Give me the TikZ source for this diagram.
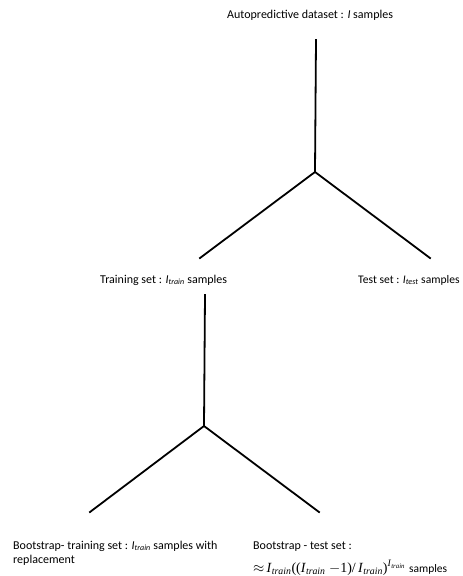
\documentclass[tikz,border=0pt]{standalone}
\usepackage{fontspec}
\setmainfont{Carlito}
\newfontfamily\formfont{Liberation Serif}
\newcommand{\Isub}[1]{\textit{I}\textsubscript{\textit{#1}}}
\begin{document}
\begin{tikzpicture}[x=1pt,y=-1pt,
  lbl/.style={anchor=base west,inner sep=0pt,font=\fontsize{12}{14.5}\selectfont,align=left},
  branch/.style={line width=1.8pt,line cap=rect}]
\useasboundingbox (0,0) rectangle (463,576);
% labels
\node[lbl] (root) at (227,18) {Autopredictive dataset : \textit{I} samples};
\node[lbl] (train) at (100,283) {Training set : \Isub{train} samples};
\node[lbl,font=\fontsize{11.6}{14}\selectfont] (test) at (358,283) {Test set : \Isub{test} samples};
\node[lbl] (bstrain) at (13,563.5) {Bootstrap- training set : \Isub{train} samples with\\replacement};
\node[lbl] (bstest) at (253,549) {Bootstrap - test set :};
\node[anchor=base west,inner sep=0pt,font=\formfont\fontsize{14}{16}\selectfont] (formula) at (253,572)
  {$\approx$\,\textit{I}\textsubscript{\textit{train}}((\textit{I}\textsubscript{\textit{train}} $-$1)/\,\textit{I}\textsubscript{\textit{train}})\textsuperscript{\textit{I}\textsubscript{\textit{train}}} {\fontspec{Carlito}\fontsize{11.5}{12}\selectfont samples}};
% tree 1
\coordinate (t1top) at (316,40);
\coordinate (t1mid) at (315,172);
\coordinate (t1left) at (200,258);
\coordinate (t1right) at (430,258);
\draw[branch] (t1top) -- (t1mid);
\draw[branch] (t1left) -- (t1mid) -- (t1right);
% tree 2
\coordinate (t2top) at (205,295);
\coordinate (t2mid) at (204,426);
\coordinate (t2left) at (90,512);
\coordinate (t2right) at (319,512);
\draw[branch] (t2top) -- (t2mid);
\draw[branch] (t2left) -- (t2mid) -- (t2right);
\end{tikzpicture}
\end{document}
